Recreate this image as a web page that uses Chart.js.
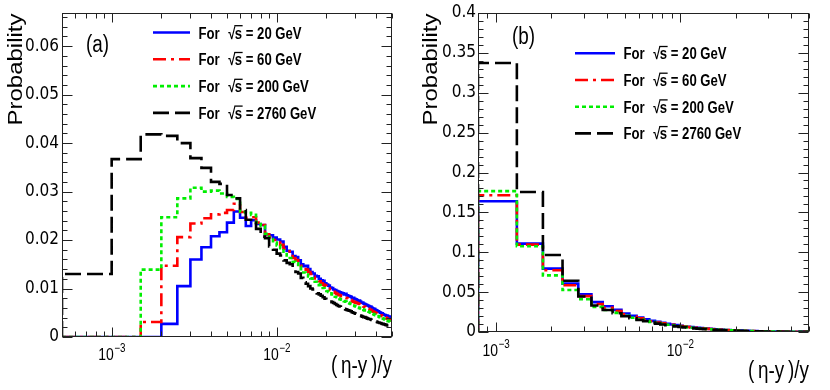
<!DOCTYPE html>
<html><head><meta charset="utf-8">
<script src="https://cdn.jsdelivr.net/npm/chart.js@4/dist/chart.umd.min.js"></script>
<style>
body{margin:0;background:#fff;width:830px;height:390px;overflow:hidden;position:relative}
canvas{position:absolute;top:0}
</style></head><body>
<canvas id="ca" width="415" height="390" style="left:0"></canvas>
<canvas id="cb" width="415" height="390" style="left:415px"></canvas>
<script>
// ---------------- data ----------------
const energies = ['20', '60', '200', '2760'];
const binWidth = 0.0005;
const firstEdgeA = 0.0005;
const firstEdgeB = 0.0008;
const xRangeA = [0.0005, 0.05];
const xRangeB = [0.0008, 0.05];
const xDecades = [-3, -2];
const yTicksA = [0, 0.01, 0.02, 0.03, 0.04, 0.05, 0.06];
const yTickLabelsA = ['0', '0.01', '0.02', '0.03', '0.04', '0.05', '0.06'];
const yTicksB = [0, 0.05, 0.1, 0.15, 0.2, 0.25, 0.3, 0.35, 0.4];
const yTickLabelsB = ['0', '0.05', '0.1', '0.15', '0.2', '0.25', '0.3', '0.35', '0.4'];

// panel (a)
const probA20 = [
0, 0, 0, 0.0027, 0.0105, 0.0160, 0.0185, 0.0208, 0.0216, 0.0236,
0.0259, 0.0246, 0.0229, 0.0241, 0.0233, 0.0231, 0.0212, 0.0210, 0.0205, 0.0201,
0.0197, 0.0186, 0.0178, 0.0176, 0.0167, 0.0165, 0.0158, 0.0150, 0.0146, 0.0147,
0.0140, 0.0134, 0.0131, 0.0126, 0.0125, 0.0120, 0.0117, 0.0116, 0.0111, 0.0108,
0.0106, 0.0102, 0.0101, 0.0098, 0.0097, 0.0095, 0.0094, 0.0092, 0.0091, 0.0090,
0.0088, 0.0089, 0.0086, 0.0085, 0.0084, 0.0083, 0.0080, 0.0081, 0.0079, 0.0078,
0.0076, 0.0075, 0.0075, 0.0073, 0.0071, 0.0071, 0.0069, 0.0068, 0.0067, 0.0066,
0.0065, 0.0064, 0.0062, 0.0063, 0.0061, 0.0059, 0.0058, 0.0058, 0.0056, 0.0055,
0.0054, 0.0053, 0.0052, 0.0051, 0.0050, 0.0049, 0.0049, 0.0047, 0.0046, 0.0046,
0.0045, 0.0044, 0.0044, 0.0043, 0.0042, 0.0042, 0.0041, 0.0040, 0.0040];
const probA60 = [
0, 0, 0.0031, 0.0147, 0.0206, 0.0234, 0.0245, 0.0253, 0.0256, 0.0262,
0.0275, 0.0258, 0.0246, 0.0247, 0.0236, 0.0231, 0.0212, 0.0206, 0.0200, 0.0195,
0.0190, 0.0182, 0.0177, 0.0170, 0.0163, 0.0159, 0.0152, 0.0147, 0.0143, 0.0139,
0.0134, 0.0130, 0.0124, 0.0121, 0.0118, 0.0115, 0.0111, 0.0108, 0.0106, 0.0103,
0.0100, 0.0097, 0.0096, 0.0093, 0.0091, 0.0089, 0.0087, 0.0086, 0.0084, 0.0083,
0.0082, 0.0081, 0.0080, 0.0079, 0.0077, 0.0076, 0.0074, 0.0073, 0.0072, 0.0071,
0.0070, 0.0069, 0.0068, 0.0066, 0.0066, 0.0064, 0.0063, 0.0062, 0.0061, 0.0060,
0.0059, 0.0058, 0.0056, 0.0056, 0.0054, 0.0053, 0.0052, 0.0051, 0.0050, 0.0049,
0.0048, 0.0047, 0.0046, 0.0045, 0.0045, 0.0044, 0.0043, 0.0042, 0.0041, 0.0040,
0.0040, 0.0039, 0.0038, 0.0037, 0.0037, 0.0036, 0.0035, 0.0035, 0.0034];
const probA200 = [
0, 0, 0.0139, 0.0247, 0.0286, 0.0308, 0.0300, 0.0302, 0.0296, 0.0289,
0.0285, 0.0258, 0.0256, 0.0252, 0.0236, 0.0229, 0.0213, 0.0202, 0.0195, 0.0189,
0.0183, 0.0176, 0.0168, 0.0163, 0.0155, 0.0152, 0.0145, 0.0140, 0.0133, 0.0129,
0.0125, 0.0121, 0.0117, 0.0114, 0.0110, 0.0107, 0.0104, 0.0101, 0.0098, 0.0095,
0.0093, 0.0090, 0.0088, 0.0086, 0.0083, 0.0082, 0.0080, 0.0078, 0.0077, 0.0076,
0.0074, 0.0073, 0.0072, 0.0071, 0.0069, 0.0068, 0.0067, 0.0065, 0.0064, 0.0063,
0.0062, 0.0061, 0.0060, 0.0059, 0.0058, 0.0057, 0.0056, 0.0055, 0.0055, 0.0054,
0.0053, 0.0052, 0.0051, 0.0050, 0.0049, 0.0048, 0.0047, 0.0046, 0.0045, 0.0044,
0.0043, 0.0043, 0.0042, 0.0041, 0.0040, 0.0039, 0.0039, 0.0038, 0.0037, 0.0036,
0.0035, 0.0035, 0.0034, 0.0033, 0.0033, 0.0032, 0.0031, 0.0031, 0.0030];
const probA2760 = [
0.0130, 0.0367, 0.0418, 0.0415, 0.0400, 0.0369, 0.0349, 0.0320, 0.0316, 0.0293,
0.0286, 0.0262, 0.0242, 0.0236, 0.0223, 0.0207, 0.0204, 0.0187, 0.0180, 0.0172,
0.0168, 0.0158, 0.0153, 0.0150, 0.0140, 0.0134, 0.0131, 0.0122, 0.0113, 0.0110,
0.0105, 0.0100, 0.0098, 0.0094, 0.0090, 0.0088, 0.0085, 0.0082, 0.0079, 0.0077,
0.0075, 0.0073, 0.0072, 0.0070, 0.0068, 0.0066, 0.0064, 0.0063, 0.0061, 0.0060,
0.0058, 0.0057, 0.0056, 0.0055, 0.0054, 0.0053, 0.0051, 0.0050, 0.0049, 0.0048,
0.0047, 0.0046, 0.0045, 0.0044, 0.0043, 0.0042, 0.0041, 0.0041, 0.0040, 0.0039,
0.0038, 0.0037, 0.0037, 0.0036, 0.0035, 0.0034, 0.0034, 0.0033, 0.0032, 0.0032,
0.0031, 0.0030, 0.0030, 0.0029, 0.0029, 0.0028, 0.0027, 0.0027, 0.0026, 0.0026,
0.0025, 0.0025, 0.0024, 0.0024, 0.0024, 0.0023, 0.0023, 0.0023, 0.0023];

// panel (b)
const probB20 = [
0.1639, 0.1108, 0.0795, 0.0607, 0.0473, 0.0374, 0.0322, 0.0278, 0.0232, 0.0204,
0.0181, 0.0160, 0.0140, 0.0127, 0.0115, 0.0104, 0.0094, 0.0086, 0.0078, 0.0072,
0.0066, 0.0061, 0.0056, 0.0052, 0.0048, 0.0045, 0.0042, 0.0039, 0.0036, 0.0034,
0.0032, 0.0030, 0.0028, 0.0026, 0.0025, 0.0023, 0.0022, 0.0021, 0.0020, 0.0019,
0.0018, 0.0017, 0.0016, 0.0015, 0.0014, 0.0014, 0.0013, 0.0012, 0.0012, 0.0011,
0.0011, 0.0010, 0.0010, 0.0009, 0.0009, 0.0009, 0.0008, 0.0008, 0.0008, 0.0007,
0.0007, 0.0007, 0.0006, 0.0006, 0.0006, 0.0006, 0.0006, 0.0005, 0.0005, 0.0005,
0.0005, 0.0005, 0.0005, 0.0005, 0.0004, 0.0004, 0.0004, 0.0004, 0.0004, 0.0004,
0.0004, 0.0004, 0.0004, 0.0004, 0.0003, 0.0003, 0.0003, 0.0003, 0.0003, 0.0003,
0.0003, 0.0003, 0.0003, 0.0003, 0.0003, 0.0003, 0.0003, 0.0003, 0.0003];
const probB60 = [
0.1714, 0.1095, 0.0774, 0.0586, 0.0450, 0.0352, 0.0303, 0.0262, 0.0221, 0.0193,
0.0171, 0.0152, 0.0134, 0.0120, 0.0108, 0.0098, 0.0089, 0.0081, 0.0074, 0.0068,
0.0062, 0.0057, 0.0053, 0.0049, 0.0045, 0.0042, 0.0039, 0.0037, 0.0034, 0.0032,
0.0030, 0.0028, 0.0026, 0.0025, 0.0023, 0.0022, 0.0021, 0.0019, 0.0018, 0.0017,
0.0016, 0.0016, 0.0015, 0.0014, 0.0013, 0.0013, 0.0012, 0.0011, 0.0011, 0.0010,
0.0010, 0.0010, 0.0009, 0.0009, 0.0008, 0.0008, 0.0008, 0.0007, 0.0007, 0.0007,
0.0006, 0.0006, 0.0006, 0.0006, 0.0005, 0.0005, 0.0005, 0.0005, 0.0005, 0.0004,
0.0004, 0.0004, 0.0004, 0.0004, 0.0004, 0.0004, 0.0003, 0.0003, 0.0003, 0.0003,
0.0003, 0.0003, 0.0003, 0.0003, 0.0003, 0.0003, 0.0003, 0.0002, 0.0002, 0.0002,
0.0002, 0.0002, 0.0002, 0.0002, 0.0002, 0.0002, 0.0002, 0.0002, 0.0002];
const probB200 = [
0.1766, 0.1075, 0.0710, 0.0527, 0.0410, 0.0315, 0.0276, 0.0240, 0.0203, 0.0178,
0.0158, 0.0141, 0.0125, 0.0112, 0.0101, 0.0091, 0.0083, 0.0076, 0.0069, 0.0064,
0.0058, 0.0054, 0.0050, 0.0046, 0.0043, 0.0040, 0.0037, 0.0035, 0.0032, 0.0030,
0.0028, 0.0027, 0.0025, 0.0024, 0.0022, 0.0021, 0.0020, 0.0018, 0.0017, 0.0016,
0.0016, 0.0015, 0.0014, 0.0013, 0.0013, 0.0012, 0.0011, 0.0011, 0.0010, 0.0010,
0.0009, 0.0009, 0.0009, 0.0008, 0.0008, 0.0008, 0.0007, 0.0007, 0.0007, 0.0006,
0.0006, 0.0006, 0.0006, 0.0005, 0.0005, 0.0005, 0.0005, 0.0005, 0.0004, 0.0004,
0.0004, 0.0004, 0.0004, 0.0004, 0.0004, 0.0003, 0.0003, 0.0003, 0.0003, 0.0003,
0.0003, 0.0003, 0.0003, 0.0003, 0.0003, 0.0002, 0.0002, 0.0002, 0.0002, 0.0002,
0.0002, 0.0002, 0.0002, 0.0002, 0.0002, 0.0002, 0.0002, 0.0002, 0.0002];
const probB2760 = [
0.3373, 0.1755, 0.0965, 0.0642, 0.0445, 0.0332, 0.0275, 0.0235, 0.0198, 0.0172,
0.0151, 0.0134, 0.0118, 0.0105, 0.0094, 0.0085, 0.0077, 0.0070, 0.0064, 0.0058,
0.0053, 0.0049, 0.0045, 0.0042, 0.0039, 0.0036, 0.0034, 0.0031, 0.0029, 0.0027,
0.0026, 0.0024, 0.0023, 0.0021, 0.0020, 0.0019, 0.0018, 0.0017, 0.0016, 0.0015,
0.0014, 0.0014, 0.0013, 0.0012, 0.0012, 0.0011, 0.0011, 0.0010, 0.0010, 0.0009,
0.0009, 0.0008, 0.0008, 0.0008, 0.0007, 0.0007, 0.0007, 0.0007, 0.0006, 0.0006,
0.0006, 0.0006, 0.0005, 0.0005, 0.0005, 0.0005, 0.0005, 0.0004, 0.0004, 0.0004,
0.0004, 0.0004, 0.0004, 0.0003, 0.0003, 0.0003, 0.0003, 0.0003, 0.0003, 0.0003,
0.0003, 0.0003, 0.0002, 0.0002, 0.0002, 0.0002, 0.0002, 0.0002, 0.0002, 0.0002,
0.0002, 0.0002, 0.0002, 0.0002, 0.0002, 0.0002, 0.0002, 0.0002, 0.0002];

// ---------------- helpers ----------------
const FONT = "'Liberation Sans', Arial, Helvetica, sans-serif";
const NARROW = "'Liberation Sans Narrow', 'Arial Narrow', 'DejaVu Sans Condensed', sans-serif";
const SX = 0.82;

function histPoints(firstEdge, values) {
  const pts = [{ x: firstEdge, y: 0 }];
  values.forEach((v, i) => pts.push({ x: firstEdge + i * binWidth, y: v }));
  pts.push({ x: firstEdge + values.length * binWidth, y: values[values.length - 1] });
  return pts;
}

const styles = [
  { color: '#0000ff', dash: [], width: 2.6 },
  { color: '#ff0000', dash: [13, 5, 3, 5], width: 2.6 },
  { color: '#00ee00', dash: [4, 3], width: 2.6 },
  { color: '#000000', dash: [16, 6], width: 2.6 }
];

function makeDatasets(firstEdge, series) {
  return series.map((vals, i) => ({
    label: 'For √s = ' + energies[i] + ' GeV',
    data: histPoints(firstEdge, vals),
    borderColor: styles[i].color,
    borderDash: styles[i].dash,
    borderWidth: styles[i].width,
    stepped: 'before',
    pointRadius: 0,
    fill: false,
    tension: 0,
    order: 4 - i
  }));
}

function txt(ctx, s, x, y, size, opt) {
  opt = opt || {};
  ctx.save();
  ctx.translate(x, y);
  ctx.scale(SX, 1);
  ctx.font = (opt.bold ? 'bold ' : '') + size + 'px ' + FONT;
  ctx.textAlign = opt.align || 'left';
  ctx.textBaseline = 'alphabetic';
  ctx.fillStyle = '#000';
  ctx.fillText(s, 0, 0);
  ctx.restore();
}
function tw(ctx, s, size, bold) {
  ctx.save();
  ctx.font = (bold ? 'bold ' : '') + size + 'px ' + FONT;
  const w = ctx.measureText(s).width * SX;
  ctx.restore();
  return w;
}

const rootFrame = {
  id: 'rootFrame',
  afterDraw(chart, args, o) {
    const ctx = chart.ctx, a = chart.chartArea;
    const xs = chart.scales.x, ys = chart.scales.y;
    ctx.save();
    // frame
    ctx.strokeStyle = '#222';
    ctx.lineWidth = 1;
    ctx.setLineDash([]);
    const L = Math.round(a.left) + 0.5, R = Math.round(a.right) - 0.5;
    const T = Math.round(a.top) + 0.5, B = Math.round(a.bottom) - 0.5;
    ctx.strokeRect(L, T, R - L, B - T);
    // y ticks
    ctx.beginPath();
    const nMinor = Math.round(o.yMax / o.yMinor);
    for (let i = 0; i <= nMinor; i++) {
      const v = i * o.yMinor;
      if (v > ys.max + 1e-12) break;
      const y = Math.round(ys.getPixelForValue(v)) + 0.5;
      const len = (i % o.yPerMajor === 0) ? 10 : 5;
      ctx.moveTo(L, y); ctx.lineTo(L + len, y);
      ctx.moveTo(R, y); ctx.lineTo(R - len, y);
    }
    // x ticks (log)
    for (let d = -5; d <= 0; d++) {
      for (let m = 1; m <= 9; m++) {
        const v = m * Math.pow(10, d);
        if (v < xs.min * 0.9999 || v > xs.max * 1.0001) continue;
        const x = Math.round(xs.getPixelForValue(v)) + 0.5;
        const len = m === 1 ? 9 : 5;
        ctx.moveTo(x, B); ctx.lineTo(x, B - len);
        ctx.moveTo(x, T); ctx.lineTo(x, T + len);
      }
    }
    ctx.stroke();

    // x tick labels 10^n
    xDecades.forEach(d => {
      const x = xs.getPixelForValue(Math.pow(10, d));
      const base = '10', sup = '\u2212' + Math.abs(d);
      const w1 = tw(ctx, base, 17), w2 = tw(ctx, sup, 12);
      const x0 = x - (w1 + w2) / 2;
      txt(ctx, base, x0, o.xLabelBase, 17);
      txt(ctx, sup, x0 + w1 + 0.5, o.xLabelBase - 8, 12);
    });

    // x title
    txt(ctx, '(\u2009\u03b7-y\u2009)/y', R + 0.5, o.xTitleBase, 23, { align: 'right' });

    // y title (rotated)
    ctx.save();
    ctx.translate(o.yTitleX, T);
    ctx.rotate(-Math.PI / 2);
    ctx.scale(1, SX);
    ctx.font = '24px ' + FONT;
    ctx.textAlign = 'right';
    ctx.fillStyle = '#000';
    ctx.fillText('Probability', 0, 0);
    ctx.restore();

    // panel label
    txt(ctx, o.panel, o.panelX, o.panelBase, 23);

    // legend
    const lg = o.legend;
    chart.data.datasets.forEach((ds, i) => {
      const yc = lg.y0 + i * lg.dy;
      ctx.save();
      ctx.strokeStyle = ds.borderColor;
      ctx.lineWidth = ds.borderWidth;
      ctx.setLineDash(ds.borderDash || []);
      ctx.beginPath();
      ctx.moveTo(lg.x1, yc); ctx.lineTo(lg.x2, yc);
      ctx.stroke();
      ctx.restore();
      const fs = lg.size, yb = yc + 6;
      let x = lg.tx;
      txt(ctx, 'For', x, yb, fs, { bold: true });
      x += tw(ctx, 'For', fs, true) + 8.5;
      txt(ctx, '\u221a', x, yb, fs, { bold: true });
      x += tw(ctx, '\u221a', fs, true) - 0.5;
      const sx0 = x;
      txt(ctx, 's', x, yb, fs, { bold: true });
      x += tw(ctx, 's', fs, true);
      ctx.save();
      ctx.strokeStyle = '#000'; ctx.lineWidth = 1.3; ctx.setLineDash([]);
      ctx.beginPath();
      ctx.moveTo(sx0 - 0.5, yb - fs * 0.80); ctx.lineTo(x + 0.5, yb - fs * 0.80);
      ctx.stroke();
      ctx.restore();
      txt(ctx, ' = ' + energies[i] + ' GeV', x, yb, fs, { bold: true });
    });
    ctx.restore();
  }
};

function makeChart(id, cfg) {
  return new Chart(document.getElementById(id), {
    type: 'line',
    data: { datasets: makeDatasets(cfg.firstEdge, cfg.series) },
    options: {
      responsive: false,
      animation: false,
      devicePixelRatio: 1,
      layout: { padding: cfg.padding },
      plugins: {
        legend: { display: false },
        tooltip: { enabled: false },
        rootFrame: cfg.frame
      },
      scales: {
        x: {
          type: 'logarithmic',
          min: cfg.xRange[0], max: cfg.xRange[1],
          grid: { display: false, drawTicks: false },
          border: { display: false },
          ticks: { display: false },
          afterFit: s => { s.height = cfg.xAxisH; }
        },
        y: {
          type: 'linear',
          min: 0, max: cfg.yMax,
          grid: { display: false, drawTicks: false },
          border: { display: false },
          afterBuildTicks: s => { s.ticks = cfg.yTicks.map(v => ({ value: v })); },
          ticks: {
            padding: cfg.yPad,
            color: '#000',
            font: { family: NARROW, size: 17 },
            callback: (v, i) => cfg.yLabels[i]
          },
          afterFit: s => { s.width = cfg.yAxisW; }
        }
      }
    },
    plugins: [rootFrame]
  });
}

makeChart('ca', {
  firstEdge: firstEdgeA,
  series: [probA20, probA60, probA200, probA2760],
  xRange: xRangeA, yMax: 0.0668,
  yTicks: yTicksA, yLabels: yTickLabelsA,
  padding: { left: 0, right: 23, top: 8, bottom: 0 },
  yAxisW: 62, xAxisH: 53, yPad: 3,
  frame: {
    yMax: 0.0668, yMinor: 0.002, yPerMajor: 5,
    xLabelBase: 360, xTitleBase: 373, yTitleX: 21.5,
    panel: '(a)', panelX: 86, panelBase: 52,
    legend: { x1: 153, x2: 190, tx: 198.5, y0: 32.5, dy: 26.8, size: 16 }
  }
});

makeChart('cb', {
  firstEdge: firstEdgeB,
  series: [probB20, probB60, probB200, probB2760],
  xRange: xRangeB, yMax: 0.4,
  yTicks: yTicksB, yLabels: yTickLabelsB,
  padding: { left: 0, right: 21, top: 13, bottom: 0 },
  yAxisW: 63, xAxisH: 58, yPad: 2,
  frame: {
    yMax: 0.4, yMinor: 0.01, yPerMajor: 5,
    xLabelBase: 356, xTitleBase: 378, yTitleX: 21.5,
    panel: '(b)', panelX: 97, panelBase: 43.5,
    legend: { x1: 160, x2: 200, tx: 208.5, y0: 53.3, dy: 26.7, size: 16 }
  }
});
</script>
</body></html>
